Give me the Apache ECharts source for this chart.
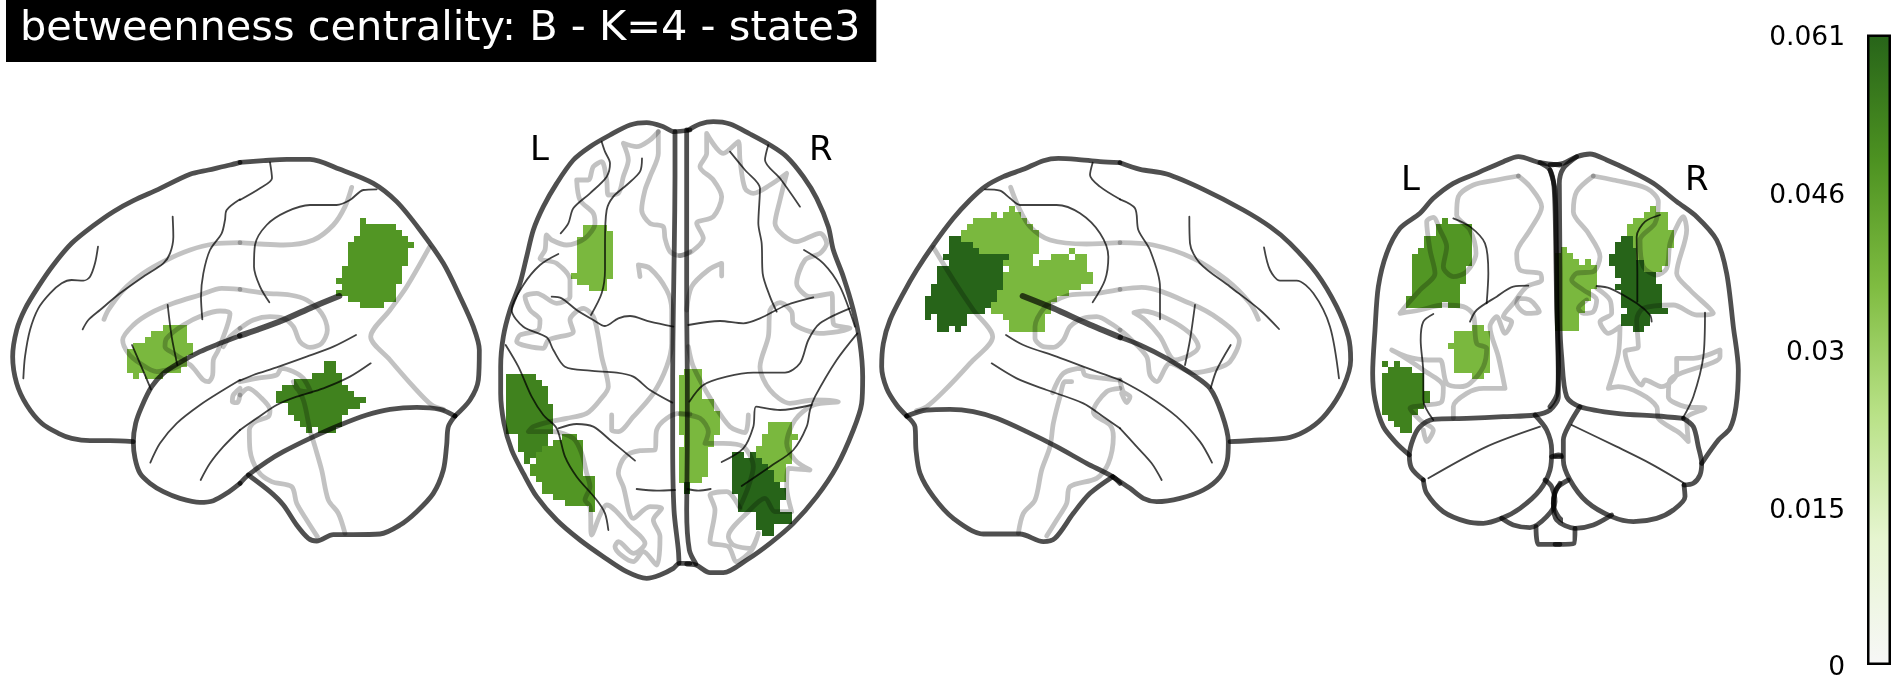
<!DOCTYPE html>
<html><head><meta charset="utf-8">
<style>html,body{margin:0;padding:0;background:#fff}#c{width:1900px;height:700px}</style>
<script src="https://cdn.jsdelivr.net/npm/echarts@6/dist/echarts.min.js"></script>
</head><body><div id="c"></div>
<script>
const titleText = 'betweenness centrality: B - K=4 - state3';
const tickLabels = ['0','0.015','0.03','0.046','0.061'];
const colorStops = ['#f7f7f7','#e6f5d0','#b8e186','#7fbc41','#4d9221','#276419'];
const vmax = 0.061;
const barValue = [vmax];
const LIGHT=0.0378, MID=0.0476, DARK=0.0531, DEEP=0.061;

// ---- left sagittal, anterior-side part
const aOutline=[
[[720,97],[690,105],[625,120],[570,133],[475,178],[400,212],[340,245],[280,287],[215,340],[160,405],[115,470],[75,537],[50,600],[38,680],[50,760],[80,825],[125,880],[175,910],[215,925],[270,932],[330,932],[400,935]],
[[720,617],[660,640],[600,665],[535,700],[490,730],[455,770],[425,830],[407,880],[400,935],[405,985],[420,1030],[450,1060],[490,1085],[540,1105],[600,1117],[640,1112],[680,1090],[720,1060]]];
const aThin=[
[[70,745],[75,680],[90,600],[115,535],[150,490],[185,460],[215,450],[250,452],[270,440],[285,400],[294,350]],
[[248,598],[265,570],[300,540],[360,490],[430,440],[490,400],[510,370],[520,320],[518,260]],
[[607,568],[603,500],[610,430],[630,360],[665,310],[675,270],[680,240],[720,208]],
[[396,645],[420,700],[453,778]],
[[503,525],[515,620],[532,705]],
[[451,998],[480,940],[530,880],[600,825],[670,780],[720,750]],
[[602,1050],[630,1000],[670,950],[720,900]]];
const aGray=[
[[312,568],[325,540],[370,480],[430,430],[500,390],[570,360],[640,342],[720,338]],
[[720,478],[665,475],[600,495],[520,520],[450,550],[400,585],[368,630],[385,670],[420,700],[470,725],[520,715],[560,700],[610,750],[625,755],[638,735],[640,690],[655,660],[690,550],[660,543],[610,555],[550,585],[500,625],[495,650],[520,670],[560,695]],
[[670,650],[690,620],[720,595]],
[[720,775],[700,795],[697,815],[712,818],[720,795]]];
const aBlobs=[{v:LIGHT,y0:585,rows:[[489,561],[453,561],[435,561],[399,579],[381,579],[381,561],[381,561],[381,543],[399,417,435,489]]}];

// ---- left sagittal, posterior-side part
const bOutline=[
[[0,97],[70,92],[140,88],[210,88],[300,118],[400,160],[470,215],[540,300],[610,400],[660,500],[700,590],[718,660],[715,750],[690,810],[645,858]],
[[645,858],[600,838],[530,832],[450,838],[380,855],[300,885],[210,925],[130,965],[80,995],[25,1035],[0,1060]],
[[645,858],[625,890],[620,945],[610,1020],[580,1090],[530,1145],[480,1185],[420,1212],[340,1214],[280,1214],[230,1233],[205,1225],[170,1185],[130,1125],[90,1085],[25,1035]]];
const bThick=[[[298,498],[220,530],[130,570],[50,600],[0,617]]];
const bThin=[
[[90,97],[96,145],[60,175],[0,210]],
[[410,178],[370,180],[330,210],[290,225],[210,225],[140,245],[80,285],[45,345],[42,410],[60,470],[88,517]],
[[348,615],[280,650],[200,680],[110,712],[40,735],[0,752]],
[[392,700],[330,740],[250,775],[170,800],[110,825],[50,865],[0,900]]];
const bGray=[
[[335,172],[315,230],[280,285],[220,330],[130,345],[60,342],[0,338]],
[[568,352],[500,470],[450,540],[392,620],[450,690],[520,770],[575,825],[610,838]],
[[0,478],[80,490],[150,495],[200,510],[245,550],[262,600],[245,640],[210,652],[180,635],[160,590],[130,565],[90,560],[40,570],[0,595]],
[[0,795],[25,775],[60,800],[90,840],[85,860],[45,875],[28,900],[30,960],[55,1025],[95,1055],[155,1070],[170,1120],[200,1170],[232,1220]],
[[0,755],[50,745],[110,735],[125,715],[160,725],[190,745],[212,785],[175,780],[160,755],[190,810],[210,900],[225,950],[245,1020],[265,1110],[295,1150],[315,1210]]];
const bBlobs=[
{v:MID,y0:264,rows:[[360,378],[360,468],[360,486],[342,504],[324,522],[324,504],[324,504],[324,504],[306,486],[306,486],[288,486],[306,468],[288,468],[324,468],[360,432]]},
{v:DARK,y0:693,rows:[[252,288],[252,288],[216,306],[162,306],[126,324],[108,342],[108,378],[144,360],[144,324],[162,306],[180,306],[198,216,234,288]]}];

// ---- axial, left half
const cOutline=[
[[600,60],[552,65],[520,50],[470,38],[420,45],[360,75],[300,110],[250,150],[200,220],[160,290],[130,360],[110,440],[90,520],[60,600],[40,680],[32,770],[32,850],[42,940],[65,1020],[100,1090],[140,1160],[200,1230],[270,1290],[340,1340],[410,1385],[470,1405],[510,1395],[550,1375],[568,1360],[600,1360]],
[[555,65],[555,200],[553,400],[550,600],[548,800],[548,1000],[552,1200],[565,1320],[567,1360]]];
const cThin=[
[[335,95],[345,125],[360,160],[350,200],[300,250],[250,295],[235,340],[212,370]],
[[456,145],[450,185],[410,225],[370,260],[350,300],[345,400],[345,480],[335,550],[303,615]],
[[205,432],[150,465],[100,525],[65,600],[100,650],[170,682],[190,720],[225,770],[300,782],[380,788],[430,800],[480,840],[547,878]],
[[185,560],[215,565],[260,600],[310,630],[345,648],[385,625],[420,618],[480,635],[550,650]],
[[47,705],[85,770],[125,860],[160,915],[200,955],[225,1040],[260,1100],[320,1170],[345,1210],[355,1260]],
[[205,955],[260,942],[310,950],[360,990],[435,1052]],
[[440,1137],[500,1142],[555,1140]]];
const cGray=[
[[505,65],[480,90],[440,110],[400,100],[415,150],[400,200],[385,250],[355,255],[350,210],[335,155],[310,170],[295,210],[260,210],[270,270],[310,310],[315,340],[285,385],[230,405],[185,390],[170,375],[165,420],[150,445],[200,460],[240,510],[240,560],[200,580],[140,550],[105,560],[120,600],[150,630],[145,660],[90,675],[80,695],[160,715],[175,690],[250,665],[240,630],[280,595],[310,620],[325,680],[335,740],[355,830],[330,870],[290,910],[230,925],[180,935],[130,950],[115,965],[190,965],[250,985],[275,1030],[290,1090],[300,1130],[285,1170],[300,1190],[305,1275],[330,1215],[350,1185],[420,1250],[465,1300],[430,1330],[385,1295],[375,1310],[430,1355],[460,1325],[500,1365],[510,1280],[490,1230],[515,1195],[480,1190],[430,1225],[400,1130],[385,1090],[405,1040],[450,1022],[495,1020],[500,960],[530,925],[570,910],[600,912]],
[[505,65],[505,130],[480,200],[465,240],[455,300],[480,340],[520,350],[525,385],[540,425],[570,437],[600,425]],
[[450,500],[445,465],[480,475],[530,540],[545,600],[545,700],[530,770],[490,850],[430,920],[385,965],[365,960],[365,915]]];
const cBlobs=[
{v:LIGHT,y0:345,rows:[[279,351],[279,369],[261,369],[261,369],[261,369],[261,369],[261,369],[261,369],[243,369],[261,351],[297,351]]},
{v:DARK,y0:792,rows:[[48,138],[48,156],[48,174],[48,174],[48,174],[48,189],[48,189],[48,189],[48,189],[48,189],[84,174],[84,174],[84,156],[102,138],[102,120]]},
{v:MID,y0:972,rows:[[216,261],[189,279],[156,279],[138,279],[138,279],[120,279],[120,279],[138,315],[156,315],[156,315],[189,315],[225,315],[297,315]]}];

// ---- axial, right half
const dOutline=[
[[25,60],[60,42],[100,35],[150,42],[210,72],[270,105],[320,140],[370,200],[410,265],[445,350],[460,420],[490,500],[520,600],[540,700],[548,800],[545,880],[520,960],[470,1070],[410,1160],[340,1240],[270,1300],[200,1350],[130,1388],[90,1388],[48,1365],[20,1362]],
[[20,60],[20,300],[20,600],[22,800],[22,1000],[20,1200],[28,1320],[48,1362]]];
const dThin=[
[[150,125],[195,180],[240,235],[235,340],[245,400],[248,490],[270,560],[290,605]],
[[265,105],[255,150],[300,205],[360,290]],
[[25,645],[120,633],[190,640],[240,625],[320,585],[400,562]],
[[372,420],[430,460],[480,530],[525,650]],
[[28,875],[70,825],[140,800],[220,788],[315,788],[360,760],[385,690],[420,640],[510,595]],
[[532,670],[470,750],[405,860],[390,900],[380,950],[340,1020],[270,1070],[185,1128]],
[[125,1056],[190,1015],[220,950],[228,890],[300,900],[395,885]],
[[22,1137],[55,1142],[92,1137]]];
const dGray=[
[[0,437],[35,425],[70,385],[50,340],[100,320],[125,260],[100,210],[60,170],[80,130],[80,70],[130,130],[175,95],[180,150],[195,235],[220,250],[270,225],[320,190],[300,270],[285,340],[350,395],[420,370],[440,400],[420,430],[375,450],[350,520],[390,560],[455,550],[460,640],[510,655],[420,670],[340,640],[335,605],[300,578],[270,600],[265,680],[240,770],[270,840],[330,880],[400,870],[475,875],[400,885],[345,930],[320,1000],[345,1050],[390,1080],[325,1075],[320,1130],[335,1205],[285,1205],[255,1165],[200,1210],[145,1280],[160,1305],[210,1315],[235,1270],[215,1320],[170,1355],[145,1310],[90,1295],[105,1200],[90,1155],[140,1145],[180,1195]],
[[125,498],[125,460],[85,480],[35,530],[20,600]],
[[0,912],[60,925],[85,965],[75,1000],[130,1000],[190,1010],[220,1070],[205,1130],[180,1190]],
[[25,710],[40,770],[100,880],[150,950],[195,968],[205,915]]];
const dBlobs=[
{v:LIGHT,y0:777,rows:[[12,66],[-3,66],[-3,66],[-3,66],[-3,66],[-3,102],[-3,102],[-3,120],[-3,120],[-3,120],[-3,120],[12,102],[12,102],[-3,84],[-3,84],[-3,84],[-3,84],[-3,84],[-3,66]]},
{v:DEEP,y0:1116,rows:[[12,30],[12,30]]},
{v:DEEP,y0:1026,rows:[[156,192,210,228],[156,246],[156,264],[156,282],[156,282],[156,300],[156,318],[174,318],[174,300],[174,300],[228,336],[228,336],[228,282],[246,282]]},
{v:LIGHT,y0:936,rows:[[264,336],[264,336],[246,354],[246,336],[228,336],[228,336],[246,336],[264,318],[282,318],[282,318]]}];

// ---- right sagittal, posterior-side part
const eOutline=[
[[750,98],[690,95],[620,88],[565,85],[520,92],[460,118],[400,140],[345,170],[300,210],[250,265],[190,345],[140,420],[100,490],[60,570],[40,640],[35,710],[50,775],[80,825],[110,858]],
[[110,858],[135,890],[138,960],[150,1030],[190,1100],[250,1165],[340,1212],[450,1212],[520,1235],[555,1225],[610,1150],[660,1090],[728,1040]],
[[110,858],[170,840],[240,838],[310,845],[380,865],[470,905],[560,950],[650,1000],[728,1040],[750,1060]]];
const eThick=[[[458,498],[550,535],[650,580],[750,622]]];
const eThin=[
[[668,98],[660,135],[690,170],[750,208]],
[[345,178],[390,182],[420,205],[450,225],[560,225],[630,250],[690,310],[715,380],[705,450],[668,517]],
[[408,615],[460,645],[560,680],[680,725],[750,750]],
[[365,700],[440,745],[530,780],[640,820],[700,860],[750,895]]];
const eGray=[
[[422,172],[445,230],[480,290],[540,330],[650,342],[750,338]],
[[190,352],[250,450],[310,540],[368,620],[300,700],[220,785],[170,830],[140,842]],
[[750,478],[680,490],[600,495],[560,510],[525,530],[495,590],[495,625],[520,650],[550,652],[580,630],[600,590],[640,565],[680,560],[730,585],[750,600]],
[[548,788],[580,730],[635,715],[645,735],[700,745],[750,750]],
[[605,755],[585,755],[570,800],[550,880],[540,950],[515,1020],[495,1110],[460,1150],[445,1210]],
[[750,775],[710,785],[670,845],[680,860],[720,885],[730,920],[715,1000],[680,1045],[600,1070],[590,1120],[560,1170],[530,1218]]];
const eBlobs=[
{v:DEEP,y0:318,rows:[[237,273],[237,309],[237,327],[219,417],[237,399],[201,399],[201,399],[201,399],[183,399],[183,381],[165,381],[165,363],[165,345],[165,183,201,291],[201,291],[201,237,255,273]]},
{v:LIGHT,y0:228,rows:[[417,435],[363,381,399,453],[309,471],[291,489],[273,507],[273,507],[309,507],[327,507,597,615],[417,489,543,597,615,651],[399,489,507,651],[417,651],[399,669],[399,669],[399,633],[381,597],[381,561],[363,543],[363,543],[399,525],[417,525],[417,525]]}];

// ---- right sagittal, anterior-side part
const fOutline=[
[[30,98],[90,118],[170,132],[280,178],[400,240],[480,290],[540,340],[620,430],[680,530],[715,620],[722,690],[700,770],[650,850],[600,895],[540,922],[450,930],[360,935]],
[[30,622],[90,645],[170,685],[250,735],[300,775],[335,850],[355,935],[352,990],[330,1040],[280,1080],[210,1105],[140,1115],[100,1105],[60,1075],[8,1040]]];
const fThin=[
[[30,208],[75,235],[85,300],[120,360],[150,470],[150,568]],
[[238,260],[240,340],[270,400],[360,470],[450,540],[507,597]],
[[462,352],[480,420],[510,452],[560,452],[610,490],[660,590],[687,745]],
[[255,525],[240,630],[225,705]],
[[362,645],[320,720],[302,775]],
[[30,750],[110,795],[200,860],[270,935],[306,998]],
[[30,895],[80,950],[125,1000],[155,1050]]];
const fGray=[
[[445,568],[420,520],[350,450],[250,385],[130,345],[30,338]],
[[30,478],[95,472],[240,520],[330,570],[388,632],[360,695],[320,715],[250,728],[180,700],[140,755],[120,735],[110,680],[60,625],[30,600]],
[[72,548],[100,543],[170,565],[240,610],[265,650],[240,675],[195,690],[150,620],[105,570],[72,548]],
[[30,750],[40,785],[60,800],[50,818],[35,790]]];

// ---- coronal, left half
const gOutline=[
[[570,75],[510,68],[445,50],[400,65],[320,100],[250,130],[190,175],[150,220],[90,265],[50,340],[25,440],[15,570],[8,700],[15,780],[40,860],[80,910],[118,945]],
[[510,68],[540,90],[552,140],[557,300],[560,500],[565,650],[565,770],[540,810],[495,825],[400,830],[290,835],[190,838],[150,860],[130,895],[118,945],[125,985],[160,1020]],
[[160,1020],[170,1060],[220,1115],[290,1145],[340,1150],[395,1135],[450,1105],[510,1050],[540,990],[545,930],[530,870],[495,825]],
[[395,1135],[430,1155],[480,1163],[530,1130],[555,1085],[545,1040],[525,1020]],
[[498,1160],[505,1213],[570,1213]],
[[545,950],[565,945],[585,950]],
[[570,1030],[555,1060],[550,1090],[565,1130],[590,1150]]];
const gThin=[
[[250,235],[300,260],[345,310],[355,400],[350,490]],
[[475,437],[430,440],[380,470],[320,510],[300,545]],
[[190,522],[160,545],[152,600],[160,700],[160,780],[190,840]],
[[175,1015],[350,920],[510,860]]];
const gGray=[
[[445,108],[380,120],[310,135],[265,170],[260,225],[300,270],[318,340],[290,395],[250,410],[220,380],[230,320],[210,270],[190,232],[170,245],[180,330],[195,400],[150,450],[110,495],[90,520],[150,510],[220,495],[280,500],[310,525],[320,610],[350,625],[340,680],[300,730],[270,740],[230,730],[210,660],[175,660],[110,650],[65,630],[100,650],[160,690],[220,740],[215,785],[170,795],[120,805],[150,840],[190,870],[170,905],[160,870]],
[[445,108],[480,140],[515,200],[480,270],[440,340],[450,390],[510,400],[515,420],[470,440],[430,490],[400,530],[425,545],[405,580],[380,530],[360,560],[385,650],[405,745],[340,745],[290,760],[250,800],[250,835]],
[[445,475],[480,480],[508,515],[470,520],[440,490],[445,475]]];
const gBlobs=[
{v:MID,y0:234,rows:[[216,234],[198,306],[198,306],[162,306],[162,306],[144,306],[126,306],[126,306],[126,288],[126,288],[126,288],[126,270],[126,270],[108,270],[108,216,234,270]]},
{v:LIGHT,y0:555,rows:[[306,342],[252,360],[252,360],[234,360],[252,360],[252,360],[252,360],[252,360],[306,342]]},
{v:DARK,y0:663,rows:[[36,54,72,90],[54,126],[36,162],[36,162],[36,162],[36,180],[36,180],[36,162],[36,144],[54,126],[72,126],[90,126]]}];

// ---- coronal, right half
const hOutline=[
[[0,75],[40,70],[80,50],[120,42],[170,60],[240,92],[310,130],[380,185],[440,230],[500,300],[530,400],[550,560],[565,690],[558,800],[540,865],[505,900],[455,970]],
[[80,50],[40,85],[28,130],[30,400],[30,550],[35,650],[50,770],[90,800],[200,820],[320,828],[400,835]],
[[0,90],[15,150],[20,400],[22,560],[25,700],[22,760],[0,800]],
[[400,835],[430,860],[445,920],[455,970],[450,1005],[430,1030],[402,1035]],
[[402,1035],[405,1070],[370,1110],[320,1135],[250,1145],[185,1130],[110,1085],[60,1020],[40,960],[40,900],[60,850],[90,800]],
[[55,1020],[20,1045],[10,1090],[20,1140],[75,1165],[130,1155],[185,1125]],
[[75,1165],[72,1210],[15,1213]],
[[15,950],[35,950]]];
const hThin=[
[[330,225],[285,245],[260,290],[262,400],[262,485]],
[[140,438],[180,445],[260,490],[300,525],[305,545]],
[[465,518],[460,650],[430,770],[398,835]],
[[65,855],[200,920],[300,970],[400,1028]]];
const hGray=[
[[130,108],[190,120],[290,145],[325,185],[315,250],[270,300],[280,380],[320,405],[350,385],[360,310],[385,250],[400,230],[410,270],[380,400],[420,450],[490,520],[440,525],[370,495],[280,505],[260,540],[265,620],[225,635],[240,690],[275,735],[285,720],[335,740],[380,700],[380,655],[430,655],[510,630],[510,650],[360,720],[355,770],[405,800],[465,805],[410,835],[415,905],[390,880],[325,835],[320,800],[270,760],[205,740],[175,745],[205,640],[210,560],[175,580],[150,545],[185,520],[180,480],[140,445]],
[[130,108],[80,155],[70,215],[115,280],[150,350],[130,395],[80,400],[65,420],[100,450],[140,480],[130,515],[100,520],[85,505],[110,480]]];
const hBlobs=[
{v:LIGHT,y0:321,rows:[[33,51],[15,69],[15,87,105,123],[15,141],[15,141],[15,141],[15,141],[15,123],[15,123],[15,105],[15,105],[15,87],[15,87],[15,87]]},
{v:DEEP,y0:288,rows:[[213,249],[195,249],[195,258],[177,258],[177,282],[195,282],[195,318],[213,318],[195,336],[213,336],[213,336],[213,336],[231,354],[213,300],[213,300],[249,282]]},
{v:LIGHT,y0:198,rows:[[300,318],[282,354],[249,354],[231,354],[231,372],[249,372],[249,372],[258,354],[258,354],[282,354],[282,336]]}];

// crop table: page window of each part of the picture
const parts=[
 {box:[0,130,240,440],outline:aOutline,thick:[],thin:aThin,gray:aGray,blobs:aBlobs},
 {box:[240,130,240,440],outline:bOutline,thick:bThick,thin:bThin,gray:bGray,blobs:bBlobs},
 {box:[490,110,200,480],outline:cOutline,thick:[],thin:cThin,gray:cGray,blobs:cBlobs},
 {box:[680,110,200,480],outline:dOutline,thick:[],thin:dThin,gray:dGray,blobs:dBlobs},
 {box:[870,130,250,440],outline:eOutline,thick:eThick,thin:eThin,gray:eGray,blobs:eBlobs},
 {box:[1110,130,250,440],outline:fOutline,thick:[],thin:fThin,gray:fGray,blobs:[]},
 {box:[1370,140,190,420],outline:gOutline,thick:[],thin:gThin,gray:gGray,blobs:gBlobs},
 {box:[1550,140,190,420],outline:hOutline,thick:[],thin:hThin,gray:hGray,blobs:hBlobs}
];
const VOX=18;
const STY={
 gray:{color:'rgba(0,0,0,0.24)',width:4.8,z:3},
 outline:{color:'rgba(0,0,0,0.69)',width:4.8,z:4},
 thick:{color:'rgba(0,0,0,0.69)',width:6,z:4},
 thin:{color:'rgba(0,0,0,0.74)',width:1.8,z:5}
};
const grids=[],xAxes=[],yAxes=[],series=[];
parts.forEach((p,i)=>{
  const [l,t,w,h]=p.box;
  grids.push({left:l,top:t,width:w,height:h,containLabel:false});
  xAxes.push({type:'value',gridIndex:i,min:0,max:w*3,show:false});
  yAxes.push({type:'value',gridIndex:i,min:0,max:h*3,inverse:true,show:false});
  p.blobs.forEach(b=>{
    const data=[];
    b.rows.forEach((r,k)=>{for(let j=0;j<r.length;j+=2)data.push([r[j],r[j+1],b.y0+k*VOX]);});
    const col=echarts.color.lerp(b.v/vmax,colorStops);
    series.push({type:'custom',xAxisIndex:i,yAxisIndex:i,silent:true,z:2,clip:false,data,
      encode:{x:[0,1],y:2},
      renderItem:(params,api)=>{
        const a=api.coord([api.value(0),api.value(2)]);
        const c=api.coord([api.value(1),api.value(2)+VOX]);
        return {type:'rect',shape:{x:a[0],y:a[1],width:c[0]-a[0],height:c[1]-a[1]},style:{fill:col}};
      }});
  });
  ['gray','outline','thick','thin'].forEach(kind=>{
    p[kind].forEach(path=>{
      const s=STY[kind];
      series.push({type:'line',xAxisIndex:i,yAxisIndex:i,data:path,silent:true,showSymbol:false,symbol:'none',
        smooth:0.3,clip:false,z:s.z,animation:false,
        lineStyle:{color:s.color,width:s.width,cap:'round',join:'round'}});
    });
  });
});
// colour bar: the bar itself, and a label axis set a little lower as in the reference
const cb=parts.length;
grids.push({left:1867,top:34.5,width:24,height:630.5});
xAxes.push({type:'category',gridIndex:cb,data:[''],show:false});
yAxes.push({type:'value',gridIndex:cb,min:0,max:vmax,show:false});
series.push({type:'bar',xAxisIndex:cb,yAxisIndex:cb,data:barValue,barWidth:'100%',silent:true,z:2,
  itemStyle:{borderColor:'#000',borderWidth:2.5,
    color:new echarts.graphic.LinearGradient(0,1,0,0,colorStops.map((c,i)=>({offset:i/5,color:c})))}});
grids.push({left:1867,top:38,width:24,height:630.5});
xAxes.push({type:'category',gridIndex:cb+1,data:[''],show:false});
yAxes.push({type:'value',gridIndex:cb+1,min:0,max:vmax,interval:vmax/4,
  axisLine:{show:false},axisTick:{show:false},splitLine:{show:false},
  axisLabel:{show:true,margin:22,fontFamily:'DejaVu Sans',fontSize:26.5,color:'#000',
    formatter:v=>tickLabels[Math.round(v/(vmax/4))]}});

const txt=(s,x,y)=>({type:'text',left:x,top:y,z:10,style:{text:s,fill:'#000',font:'34px "DejaVu Sans"'}});
const chart=echarts.init(document.getElementById('c'));
chart.setOption({
  animation:false,backgroundColor:'#fff',
  title:{text:titleText,left:6,top:0,backgroundColor:'#000',padding:[8,16,12,14],
    textStyle:{color:'#fff',fontFamily:'DejaVu Sans',fontSize:41.5,fontWeight:'normal'}},
  grid:grids,xAxis:xAxes,yAxis:yAxes,series,
  graphic:[txt('L',530,134),txt('R',809,134),txt('L',1401,164),txt('R',1685,164)]
});
</script></body></html>
